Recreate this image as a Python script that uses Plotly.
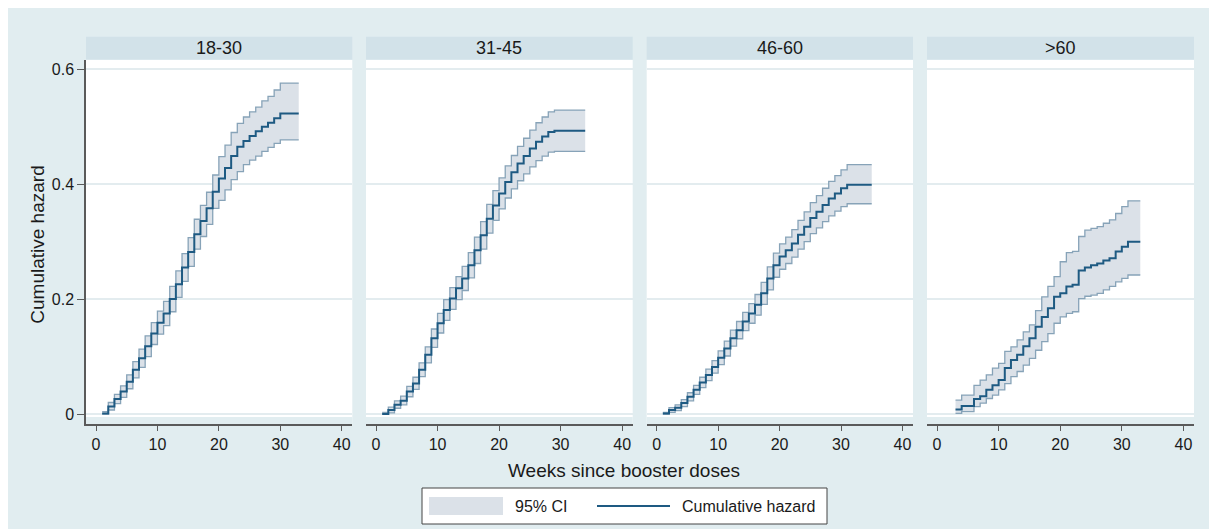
import plotly.graph_objects as go
from plotly.subplots import make_subplots

W, H = 1217, 529

# ---------------- data ----------------
panel_titles = ["18-30", "31-45", "46-60", ">60"]

weeks_18_30 = [1, 2, 3, 4, 5, 6, 7, 8, 9, 10, 11, 12, 13, 14, 15, 16, 17, 18, 19, 20,
               21, 22, 23, 24, 25, 26, 27, 28, 29, 30, 33]
haz_18_30 = [0.001, 0.013, 0.026, 0.039, 0.056, 0.077, 0.097, 0.118, 0.140, 0.159,
             0.175, 0.200, 0.226, 0.255, 0.282, 0.313, 0.336, 0.358, 0.387, 0.410,
             0.428, 0.449, 0.465, 0.475, 0.484, 0.492, 0.500, 0.507, 0.515, 0.523, 0.523]
lo_18_30 = [0.000, 0.007, 0.018, 0.029, 0.044, 0.063, 0.081, 0.100, 0.121, 0.139,
            0.154, 0.178, 0.203, 0.231, 0.257, 0.287, 0.309, 0.330, 0.358, 0.372,
            0.390, 0.408, 0.422, 0.434, 0.442, 0.449, 0.457, 0.464, 0.471, 0.477, 0.477]
hi_18_30 = [0.004, 0.020, 0.034, 0.049, 0.068, 0.091, 0.113, 0.136, 0.159, 0.179,
            0.196, 0.222, 0.249, 0.279, 0.307, 0.339, 0.363, 0.386, 0.416, 0.448,
            0.468, 0.490, 0.506, 0.517, 0.526, 0.534, 0.545, 0.553, 0.564, 0.576, 0.576]

weeks_31_45 = [1, 2, 3, 4, 5, 6, 7, 8, 9, 10, 11, 12, 13, 14, 15, 16, 17, 18, 19, 20,
               21, 22, 23, 24, 25, 26, 27, 28, 29, 34]
haz_31_45 = [0.000, 0.007, 0.016, 0.023, 0.039, 0.053, 0.077, 0.103, 0.132, 0.158,
             0.181, 0.201, 0.219, 0.236, 0.259, 0.285, 0.311, 0.340, 0.363, 0.384,
             0.404, 0.421, 0.436, 0.449, 0.462, 0.474, 0.483, 0.491, 0.493, 0.493]
lo_31_45 = [0.000, 0.002, 0.010, 0.016, 0.030, 0.043, 0.065, 0.089, 0.116, 0.141,
            0.163, 0.182, 0.199, 0.215, 0.237, 0.262, 0.287, 0.315, 0.337, 0.357,
            0.376, 0.392, 0.406, 0.418, 0.430, 0.441, 0.449, 0.456, 0.457, 0.457]
hi_31_45 = [0.003, 0.012, 0.023, 0.031, 0.048, 0.064, 0.089, 0.117, 0.148, 0.175,
            0.199, 0.220, 0.239, 0.257, 0.281, 0.308, 0.335, 0.365, 0.389, 0.411,
            0.432, 0.450, 0.466, 0.480, 0.494, 0.507, 0.517, 0.526, 0.529, 0.529]

weeks_46_60 = [1, 2, 3, 4, 5, 6, 7, 8, 9, 10, 11, 12, 13, 14, 15, 16, 17, 18, 19, 20,
               21, 22, 23, 24, 25, 26, 27, 28, 29, 30, 31, 35]
haz_46_60 = [0.001, 0.007, 0.011, 0.019, 0.030, 0.042, 0.055, 0.068, 0.082, 0.098,
             0.114, 0.132, 0.146, 0.161, 0.175, 0.190, 0.210, 0.236, 0.259, 0.274,
             0.285, 0.297, 0.312, 0.326, 0.341, 0.352, 0.364, 0.375, 0.384, 0.393,
             0.399, 0.399]
lo_46_60 = [0.000, 0.003, 0.006, 0.013, 0.023, 0.034, 0.046, 0.058, 0.071, 0.086,
            0.101, 0.118, 0.131, 0.145, 0.158, 0.172, 0.191, 0.216, 0.238, 0.252,
            0.262, 0.273, 0.287, 0.300, 0.314, 0.324, 0.335, 0.345, 0.353, 0.361,
            0.366, 0.366]
hi_46_60 = [0.003, 0.011, 0.016, 0.025, 0.037, 0.050, 0.064, 0.078, 0.093, 0.110,
            0.127, 0.146, 0.161, 0.177, 0.192, 0.208, 0.229, 0.256, 0.280, 0.296,
            0.308, 0.321, 0.337, 0.352, 0.368, 0.380, 0.393, 0.405, 0.415, 0.425,
            0.434, 0.434]

weeks_over_60 = [3, 4, 5, 6, 7, 8, 9, 10, 11, 12, 13, 14, 15, 16, 17, 18, 19, 20,
                 21, 22, 23, 24, 25, 26, 27, 28, 29, 30, 31, 33]
haz_over_60 = [0.008, 0.014, 0.014, 0.026, 0.031, 0.042, 0.050, 0.059, 0.080, 0.094,
               0.103, 0.118, 0.132, 0.152, 0.169, 0.184, 0.204, 0.210, 0.222, 0.225,
               0.250, 0.255, 0.259, 0.262, 0.267, 0.271, 0.283, 0.291, 0.300, 0.300]
lo_over_60 = [0.001, 0.004, 0.004, 0.013, 0.019, 0.027, 0.033, 0.042, 0.053, 0.065,
              0.074, 0.085, 0.097, 0.111, 0.126, 0.140, 0.158, 0.169, 0.175, 0.178,
              0.201, 0.205, 0.207, 0.210, 0.216, 0.222, 0.230, 0.236, 0.242, 0.242]
hi_over_60 = [0.024, 0.033, 0.033, 0.050, 0.059, 0.068, 0.080, 0.088, 0.109, 0.117,
              0.129, 0.143, 0.155, 0.180, 0.204, 0.222, 0.239, 0.265, 0.281, 0.283,
              0.309, 0.320, 0.323, 0.326, 0.332, 0.338, 0.349, 0.361, 0.371, 0.371]

x_tickvals = [0, 10, 20, 30, 40]
y_tickvals = [0, 0.2, 0.4, 0.6]
y_ticktext = ["0", "0.2", "0.4", "0.6"]

x_title = "Weeks since booster doses"
y_title = "Cumulative hazard"
legend_labels = ["95% CI", "Cumulative hazard"]

# ---------------- styles ----------------
FONT = "Liberation Sans, Arial, Helvetica, sans-serif"
BG = "#e1edf0"
STRIP = "#d2e2e9"
MAIN = "#1e5a82"
CI_LINE = "#87a3b8"
CI_FILL = "#dbe1e8"
GRID = "#e3ecef"
AXIS = "#5a5a5a"
TXT = "#1a1a1a"


def fx(px):
    return px / W


def fy(py):
    return 1 - py / H


panel_px = [(78, 344.3), (358, 624.7), (638.7, 905), (919, 1186)]
y_dom = [fy(416), fy(52)]
x_range = [-1.63, 41.72]
y_range = [-0.0174, 0.6162]

panels = [
    (weeks_18_30, haz_18_30, lo_18_30, hi_18_30),
    (weeks_31_45, haz_31_45, lo_31_45, hi_31_45),
    (weeks_46_60, haz_46_60, lo_46_60, hi_46_60),
    (weeks_over_60, haz_over_60, lo_over_60, hi_over_60),
]

fig = make_subplots(rows=1, cols=4, shared_yaxes=True, horizontal_spacing=0.01)

for i, (wk, hz, lo, hi) in enumerate(panels):
    col = i + 1
    fig.add_trace(go.Scatter(x=wk, y=lo, mode="lines",
                             line=dict(color=CI_LINE, width=1.3, shape="hv"),
                             showlegend=False, hoverinfo="skip"), row=1, col=col)
    fig.add_trace(go.Scatter(x=wk, y=hi, mode="lines", fill="tonexty",
                             fillcolor=CI_FILL,
                             line=dict(color=CI_LINE, width=1.3, shape="hv"),
                             showlegend=False, hoverinfo="skip"), row=1, col=col)
    fig.add_trace(go.Scatter(x=wk, y=hz, mode="lines",
                             line=dict(color=MAIN, width=2, shape="hv"),
                             showlegend=False), row=1, col=col)

    xa = "xaxis" if col == 1 else f"xaxis{col}"
    ya = "yaxis" if col == 1 else f"yaxis{col}"
    fig.layout[xa].update(
        domain=[fx(panel_px[i][0]), fx(panel_px[i][1])], range=x_range,
        tickvals=x_tickvals, ticks="outside", ticklen=5, tickwidth=1.3,
        tickcolor=AXIS, showline=True, linecolor=AXIS, linewidth=1.5,
        showgrid=False, zeroline=False,
        tickfont=dict(family=FONT, size=16, color=TXT))
    fig.layout[ya].update(
        domain=y_dom, range=y_range, tickvals=y_tickvals, ticktext=y_ticktext,
        showgrid=True, gridcolor=GRID, gridwidth=2, zeroline=False,
        tickfont=dict(family=FONT, size=16, color=TXT))
    if col == 1:
        fig.layout[ya].update(showline=True, linecolor=AXIS, linewidth=1.5,
                              ticks="outside", ticklen=7, tickwidth=1.3,
                              tickcolor=AXIS, showticklabels=True)
    else:
        fig.layout[ya].update(showline=False, ticks="", showticklabels=False)

    xd = "x domain" if col == 1 else f"x{col} domain"
    yd = "y domain" if col == 1 else f"y{col} domain"
    # thin background band between plot region and x axis line
    fig.add_shape(type="rect", xref=xd, yref=yd, x0=0, x1=1, y0=0, y1=7 / 364,
                  fillcolor=BG, line=dict(width=0), layer="above")
    # strip header
    fig.add_shape(type="rect", xref=xd, yref="paper", x0=0, x1=1,
                  y0=fy(51.5), y1=fy(28.7), fillcolor=STRIP,
                  line=dict(width=0), layer="above")
    fig.add_annotation(xref=xd, yref="paper", x=0.5, y=fy(39.8),
                       text=panel_titles[i], showarrow=False,
                       xanchor="center", yanchor="middle",
                       font=dict(family=FONT, size=18, color=TXT))

# axis titles
fig.add_annotation(xref="paper", yref="paper", x=fx(616), y=fy(462.5),
                   text=x_title, showarrow=False, xanchor="center",
                   yanchor="middle", font=dict(family=FONT, size=19, color=TXT))
fig.add_annotation(xref="paper", yref="paper", x=fx(28.7), y=fy(237),
                   text=y_title, showarrow=False, textangle=-90,
                   xanchor="center", yanchor="middle",
                   font=dict(family=FONT, size=19, color=TXT))

# legend box (drawn)
fig.add_shape(type="rect", xref="paper", yref="paper", x0=fx(414), x1=fx(819),
              y0=fy(516), y1=fy(480), fillcolor="white",
              line=dict(color="#444444", width=1))
fig.add_shape(type="rect", xref="paper", yref="paper", x0=fx(421), x1=fx(495),
              y0=fy(507), y1=fy(489), fillcolor=CI_FILL, line=dict(width=0))
fig.add_annotation(xref="paper", yref="paper", x=fx(505), y=fy(498.5),
                   text=legend_labels[0], showarrow=False, xanchor="left",
                   yanchor="middle", font=dict(family=FONT, size=16, color=TXT))
fig.add_shape(type="line", xref="paper", yref="paper", x0=fx(589), x1=fx(662),
              y0=fy(498), y1=fy(498), line=dict(color=MAIN, width=2))
fig.add_annotation(xref="paper", yref="paper", x=fx(672), y=fy(498.5),
                   text=legend_labels[1], showarrow=False, xanchor="left",
                   yanchor="middle", font=dict(family=FONT, size=16, color=TXT))

fig.update_layout(width=W, height=H, margin=dict(l=0, r=0, t=0, b=0),
                  paper_bgcolor=BG, plot_bgcolor="white", showlegend=False,
                  font=dict(family=FONT, size=16, color=TXT))

fig.write_html("out.html")
